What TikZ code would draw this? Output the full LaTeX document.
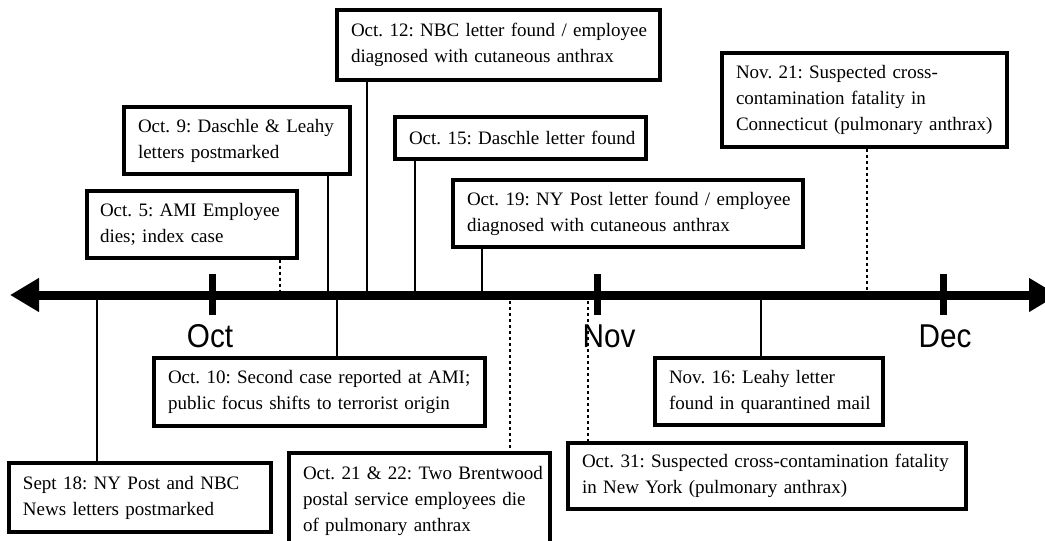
\documentclass[tikz,border=0pt]{standalone}
\usepackage{fontspec}
\setmainfont{Liberation Serif}
\newfontfamily\monthfont[FakeStretch=0.9]{Liberation Sans}
\usetikzlibrary{arrows.meta}
\frenchspacing
\begin{document}
\begin{tikzpicture}[x=1pt,y=-1pt,
  evbox/.style={draw, line width=3.2pt, inner sep=0pt, align=left,
    font=\fontsize{19}{26}\selectfont\frenchspacing},
  conn/.style={line width=2pt},
  dotconn/.style={line width=2.5pt, dash pattern=on 3pt off 3pt},
  axisline/.style={line width=9pt, {Triangle[length=29pt,width=32pt]}-{Triangle[length=29pt,width=32pt]}},
  monthtick/.style={line width=7pt},
  monthlbl/.style={anchor=base, inner sep=0pt, font=\monthfont\fontsize{33}{33}\selectfont}]
\useasboundingbox (0,0) rectangle (1045,541);
\clip (0,0) rectangle (1045,541);
\fill[white] (0,0) rectangle (1045,541);

% axis
\coordinate (L) at (10,295);
\coordinate (R) at (1058,295);
\draw[axisline] (L) -- (R);

% month ticks and labels
\coordinate (toct) at (212,295);
\coordinate (tnov) at (597,295);
\coordinate (tdec) at (943,295);
\foreach \t in {toct,tnov,tdec}{
  \draw[monthtick] ([yshift=-20pt]\t) -- ([yshift=21pt]\t);
}
\node[monthlbl] (moct) at (210,347) {Oct};
\node[monthlbl] (mnov) at (609,347) {Nov};
\node[monthlbl] (mdec) at (945,347) {Dec};

% events above the axis
\node[evbox, minimum width=323pt, minimum height=70pt, text width=295pt] (e12) at (498.5,45)
  {\mbox{Oct. 12: NBC letter found / employee}\\\mbox{diagnosed with cutaneous anthrax}};
\node[evbox, minimum width=226pt, minimum height=67pt, text width=198pt] (e9) at (237,140.5)
  {\mbox{Oct. 9: Daschle \& Leahy}\\\mbox{letters postmarked}};
\node[evbox, minimum width=210pt, minimum height=67pt, text width=184pt] (e5) at (192,224.5)
  {\mbox{Oct. 5: AMI Employee}\\\mbox{dies; index case}};
\node[evbox, minimum width=251pt, minimum height=42pt, text width=223pt] (e15) at (520.5,138)
  {\mbox{Oct. 15: Daschle letter found}};
\node[evbox, minimum width=350pt, minimum height=67pt, text width=322pt] (e19) at (628,213.5)
  {\mbox{Oct. 19: NY Post letter found / employee}\\\mbox{diagnosed with cutaneous anthrax}};
\node[evbox, minimum width=285pt, minimum height=94pt, text width=257pt] (n21) at (864.5,100)
  {\mbox{Nov. 21: Suspected cross-}\\\mbox{contamination fatality in}\\\mbox{Connecticut (pulmonary anthrax)}};

% events below the axis
\node[evbox, minimum width=262pt, minimum height=69pt, text width=234pt] (s18) at (140,497.5)
  {\mbox{Sept 18: NY Post and NBC}\\\mbox{News letters postmarked}};
\node[evbox, minimum width=331pt, minimum height=68pt, text width=303pt] (e10) at (319.5,392)
  {\mbox{Oct. 10: Second case reported at AMI;}\\\mbox{public focus shifts to terrorist origin}};
\node[evbox, minimum width=261pt, minimum height=95pt, text width=233pt] (e21) at (419.5,500.5)
  {\mbox{Oct. 21 \& 22: Two Brentwood}\\\mbox{postal service employees die}\\\mbox{of pulmonary anthrax}};
\node[evbox, minimum width=228pt, minimum height=67pt, text width=200pt] (n16) at (769,391.5)
  {\mbox{Nov. 16: Leahy letter}\\\mbox{found in quarantined mail}};
\node[evbox, minimum width=398pt, minimum height=66pt, text width=370pt] (e31) at (767,476)
  {\mbox{Oct. 31: Suspected cross-contamination fatality}\\\mbox{in New York (pulmonary anthrax)}};

% axis points of the events
\coordinate (a12) at (367,295);
\coordinate (a9) at (328,295);
\coordinate (a5) at (280,295);
\coordinate (a15) at (415,295);
\coordinate (a19) at (482,295);
\coordinate (an21) at (867,295);
\coordinate (as18) at (97,295);
\coordinate (a10) at (337,295);
\coordinate (a21) at (510,295);
\coordinate (an16) at (761,295);
\coordinate (a31) at (588,295);

% connectors
\draw[conn] (e12.south -| a12) -- (a12);
\draw[conn] (e9.south -| a9) -- (a9);
\draw[dotconn] (e5.south -| a5) -- (a5);
\draw[conn] (e15.south -| a15) -- (a15);
\draw[conn] (e19.south -| a19) -- (a19);
\draw[dotconn] (n21.south -| an21) -- (an21);
\draw[conn] (as18) -- (s18.north -| as18);
\draw[conn] (a10) -- (e10.north -| a10);
\draw[dotconn] (a21) -- (e21.north -| a21);
\draw[conn] (an16) -- (n16.north -| an16);
\draw[dotconn] (a31) -- (e31.north -| a31);
\end{tikzpicture}
\end{document}
